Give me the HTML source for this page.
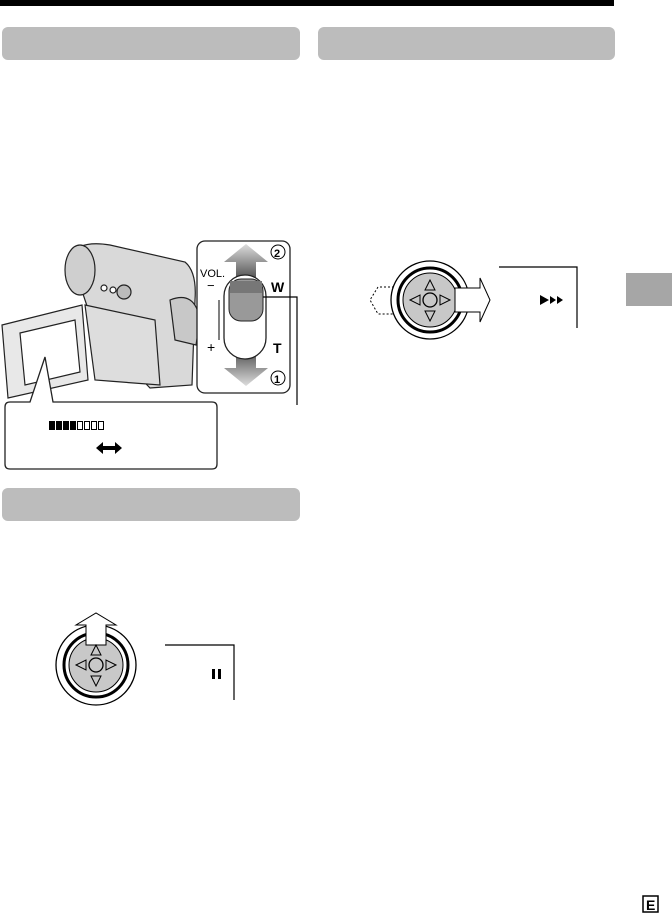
<!DOCTYPE html>
<html><head><meta charset="utf-8"><style>
html,body{margin:0;padding:0;background:#fff;}
body{width:672px;height:920px;position:relative;overflow:hidden;font-family:"Liberation Sans",sans-serif;}
</style></head><body>
<svg width="672" height="920" viewBox="0 0 672 920" xmlns="http://www.w3.org/2000/svg" style="position:absolute;left:0;top:0">
<defs>
<linearGradient id="ga" x1="0" y1="0" x2="0" y2="1"><stop offset="0" stop-color="#ddd"/><stop offset="1" stop-color="#555"/></linearGradient>
<linearGradient id="gb" x1="0" y1="0" x2="0" y2="1"><stop offset="0" stop-color="#555"/><stop offset="1" stop-color="#ddd"/></linearGradient>
</defs>
<rect x="0" y="0" width="614" height="6" fill="#000"/>
<rect x="2" y="27" width="298" height="33" rx="6" fill="#bcbcbc"/>
<rect x="318" y="27" width="297" height="33" rx="6" fill="#bcbcbc"/>
<rect x="2" y="488" width="298" height="33" rx="6" fill="#bcbcbc"/>
<rect x="626" y="273" width="46" height="33" fill="#a6a6a6"/>
<rect x="643" y="896" width="15" height="16" fill="none" stroke="#000" stroke-width="1.5"/>
<text x="646" y="910" font-size="14" font-weight="bold">E</text>

<!-- camera -->
<g stroke="#222" stroke-width="1.2" fill="#e4e4e4">
<path d="M70,255 Q80,240 110,245 L185,262 Q197,272 195,300 L192,385 L150,388 L95,330 Z" fill="#d9d9d9"/>
<ellipse cx="80" cy="270" rx="15" ry="25" fill="#cfcfcf"/>
<path d="M85,305 L155,320 L160,385 L95,380 Z" fill="#ddd"/>
<path d="M2,325 L82,305 L88,380 L8,398 Z" fill="#e8e8e8"/>
<path d="M20,333 L75,320 L80,372 L25,385 Z" fill="#fff"/>
<path d="M170,300 Q195,290 200,320 L196,345 L175,340 Z" fill="#c8c8c8"/>
<circle cx="124" cy="292" r="7" fill="#bbb"/>
<circle cx="104" cy="288" r="3" fill="#fff"/>
<circle cx="113" cy="290" r="3" fill="#fff"/>
</g>
<path d="M10,402 L30,402 L45,357 L53,402 L212,402 Q217,402 217,407 L217,464 Q217,469 212,469 L10,469 Q5,469 5,464 L5,407 Q5,402 10,402 Z" fill="#fff" stroke="#222" stroke-width="1.3"/>
<g fill="#000">
<rect x="49" y="421" width="6" height="9"/><rect x="56" y="421" width="6" height="9"/><rect x="63" y="421" width="6" height="9"/><rect x="70" y="421" width="6" height="9"/>
</g>
<g fill="none" stroke="#000" stroke-width="1"><rect x="77.5" y="421.5" width="5" height="8"/><rect x="84.5" y="421.5" width="5" height="8"/><rect x="91.5" y="421.5" width="5" height="8"/><rect x="98.5" y="421.5" width="5" height="8"/></g>
<path d="M96,448 L103,442 L103,446 L115,446 L115,442 L122,448 L115,454 L115,450 L103,450 L103,454 Z" fill="#000"/>
<rect x="197" y="241" width="93" height="152" rx="8" fill="#fff" stroke="#222" stroke-width="1.3"/>
<path d="M246,244 L268,262 L256,262 L256,278 L236,278 L236,262 L224,262 Z" fill="url(#ga)"/>
<path d="M246,386 L268,368 L256,368 L256,352 L236,352 L236,368 L224,368 Z" fill="url(#gb)"/>
<circle cx="278" cy="252" r="7" fill="none" stroke="#000"/><text x="274" y="257" font-size="11" font-weight="bold">2</text>
<circle cx="278" cy="378" r="7" fill="none" stroke="#000"/><text x="274" y="383" font-size="11" font-weight="bold">1</text>
<text x="200" y="277" font-size="11">VOL.</text>
<text x="207" y="290" font-size="13">−</text>
<text x="207" y="352" font-size="14">+</text>
<text x="271" y="292" font-size="14" font-weight="bold">W</text>
<text x="273" y="353" font-size="14" font-weight="bold">T</text>
<line x1="219" y1="300" x2="219" y2="340" stroke="#000"/>
<rect x="224" y="275" width="42" height="84" rx="21" fill="#fff" stroke="#222" stroke-width="1.3"/>
<rect x="229" y="279" width="34" height="42" rx="12" fill="#999" stroke="#222"/>
<rect x="230" y="281" width="32" height="12" fill="#777"/>
<path d="M263,297 L297,297 L297,405" fill="none" stroke="#000" stroke-width="1.2"/>

<g>
<path d="M410,287 L378,287 L370,300 L378,314 L410,314" fill="#fff" stroke="#000" stroke-dasharray="2,2"/>
<circle cx="430" cy="300" r="39" fill="#fff" stroke="#000" stroke-width="1.3"/>
<circle cx="430" cy="300" r="32" fill="#fff" stroke="#000" stroke-width="3"/>
<circle cx="430" cy="300" r="27" fill="#c8c8c8" stroke="#000"/>
<path d="M455,288 L480,288 L480,278 L490,300 L480,322 L480,312 L455,312 Z" fill="#fff" stroke="#000"/>
<circle cx="430" cy="300" r="7" fill="none" stroke="#000" stroke-width="1.3"/>
<path d="M430,280 L425,290 L435,290 Z M430,321 L425,311 L435,311 Z M410,300 L420,295 L420,305 Z M450,300 L440,295 L440,305 Z" fill="none" stroke="#000"/>
<path d="M499,267 L577,267 L577,328" fill="none" stroke="#000" stroke-width="1.2"/>
<path d="M540,295 L549,300 L540,305 Z M550,296 L556,300 L550,304 Z M557,296 L563,300 L557,304 Z" fill="#000"/>
</g>

<g>
<circle cx="96" cy="665" r="40" fill="#fff" stroke="#000" stroke-width="1.3"/>
<circle cx="96" cy="665" r="32" fill="#fff" stroke="#000" stroke-width="3"/>
<circle cx="96" cy="665" r="27" fill="#c8c8c8" stroke="#000"/>
<path d="M86,645 L86,625 L76,625 L96,613 L116,625 L106,625 L106,645 Z" fill="#fff" stroke="#000"/>
<circle cx="96" cy="665" r="7" fill="none" stroke="#000" stroke-width="1.3"/>
<path d="M96,645 L91,655 L101,655 Z M96,686 L91,676 L101,676 Z M76,665 L86,660 L86,670 Z M116,665 L106,660 L106,670 Z" fill="none" stroke="#000"/>
<path d="M165,645 L234,645 L234,700" fill="none" stroke="#000" stroke-width="1.2"/>
<rect x="212" y="669" width="3" height="10" fill="#000"/><rect x="218" y="669" width="3" height="10" fill="#000"/>
</g>
</svg>
</body></html>
